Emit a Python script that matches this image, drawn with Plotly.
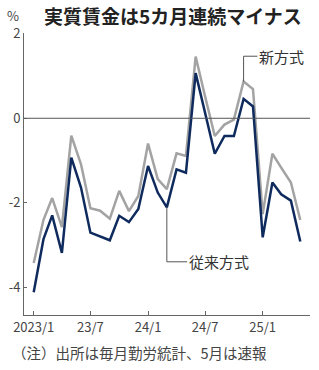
import plotly.graph_objects as go

months = ["2023-01","2023-02","2023-03","2023-04","2023-05","2023-06","2023-07","2023-08","2023-09","2023-10","2023-11","2023-12",
          "2024-01","2024-02","2024-03","2024-04","2024-05","2024-06","2024-07","2024-08","2024-09","2024-10","2024-11","2024-12",
          "2025-01","2025-02","2025-03","2025-04","2025-05"]
new_method = [-3.43,-2.41,-1.89,-2.58,-0.41,-1.09,-2.13,-2.19,-2.38,-1.72,-2.20,-1.84,
              -0.60,-1.44,-1.68,-0.83,-0.89,1.46,0.52,-0.42,-0.15,-0.03,0.87,0.69,
              -2.27,-0.84,-1.17,-1.52,-2.41]
old_method = [-4.12,-2.87,-2.30,-3.19,-0.93,-1.64,-2.71,-2.80,-2.89,-2.31,-2.46,-2.15,
              -1.13,-1.76,-2.11,-1.21,-1.29,1.07,0.16,-0.84,-0.42,-0.42,0.46,0.28,
              -2.82,-1.52,-1.80,-1.95,-2.92]
tick_vals = ["2023-01-01","2023-07-01","2024-01-01","2024-07-01","2025-01-01"]
tick_text = ["2023/1","23/7","24/1","24/7","25/1"]
y_ticks = [2, 0, -2, -4]

FONT = "Noto Sans CJK JP"
NAVY = "#0f2b5e"
GRAY = "#a3a3a3"
AX = "#666666"

fig = go.Figure()
fig.add_trace(go.Scatter(x=months, y=new_method, mode="lines", line=dict(color=GRAY, width=2.5), name="新方式"))
fig.add_trace(go.Scatter(x=months, y=old_method, mode="lines", line=dict(color=NAVY, width=2.5), name="従来方式"))

# zero line
fig.add_hline(y=0, line=dict(color="#555555", width=1))

# leader lines (from data points)
i_new = 22
i_old = 14
fig.add_trace(go.Scatter(x=[months[i_new], months[i_new], "2024-12-15"], y=[new_method[i_new], 1.47, 1.47],
                         mode="lines", line=dict(color="#555555", width=1), hoverinfo="skip", showlegend=False))
fig.add_trace(go.Scatter(x=[months[i_old], months[i_old], "2024-05-05"], y=[old_method[i_old], -3.4, -3.4],
                         mode="lines", line=dict(color="#555555", width=1), hoverinfo="skip", showlegend=False))
fig.add_annotation(x="2024-12-15", y=1.47, text="新方式", showarrow=False, xanchor="left", yanchor="middle",
                   font=dict(family=FONT, size=15, color="#333333"))
fig.add_annotation(x="2024-05-05", y=-3.4, text="従来方式", showarrow=False, xanchor="left", yanchor="middle",
                   font=dict(family=FONT, size=15, color="#333333"))

fig.update_layout(
    width=319, height=370,
    margin=dict(l=24, r=9, t=33, b=55),
    paper_bgcolor="white", plot_bgcolor="white",
    showlegend=False,
    font=dict(family=FONT, size=13, color="#444444"),
)
fig.update_xaxes(range=["2022-12-01", "2025-06-01"], tickvals=tick_vals, ticktext=tick_text,
                 showgrid=False, zeroline=False, showline=True, linecolor=AX, linewidth=1,
                 ticks="inside", ticklen=4, tickcolor=AX, tickfont=dict(family=FONT, size=13, color="#444444"))
fig.update_yaxes(range=[-4.66, 2.02], tickvals=y_ticks, ticktext=[str(v) for v in y_ticks],
                 showgrid=False, zeroline=False, showline=True, linecolor=AX, linewidth=1,
                 ticks="inside", ticklen=3, tickcolor=AX, tickfont=dict(family=FONT, size=13, color="#444444"))

fig.add_annotation(xref="paper", yref="paper", x=0.062, y=1.0, yshift=18, text="<b>実質賃金は5カ月連続マイナス</b>",
                   showarrow=False, xanchor="left", yanchor="middle", font=dict(family=FONT, size=19, color="#222222"))
fig.add_annotation(xref="paper", x=-0.065, yref="paper", y=1.0, yshift=18, text="%", showarrow=False,
                   xanchor="left", yanchor="middle", font=dict(family=FONT, size=13, color="#444444"))
fig.add_annotation(xref="paper", yref="paper", x=-0.05, y=0, yshift=-37, text="（注）出所は毎月勤労統計、5月は速報",
                   showarrow=False, xanchor="left", yanchor="middle", font=dict(family=FONT, size=14.5, color="#444444"))

fig.write_html("out.html")
